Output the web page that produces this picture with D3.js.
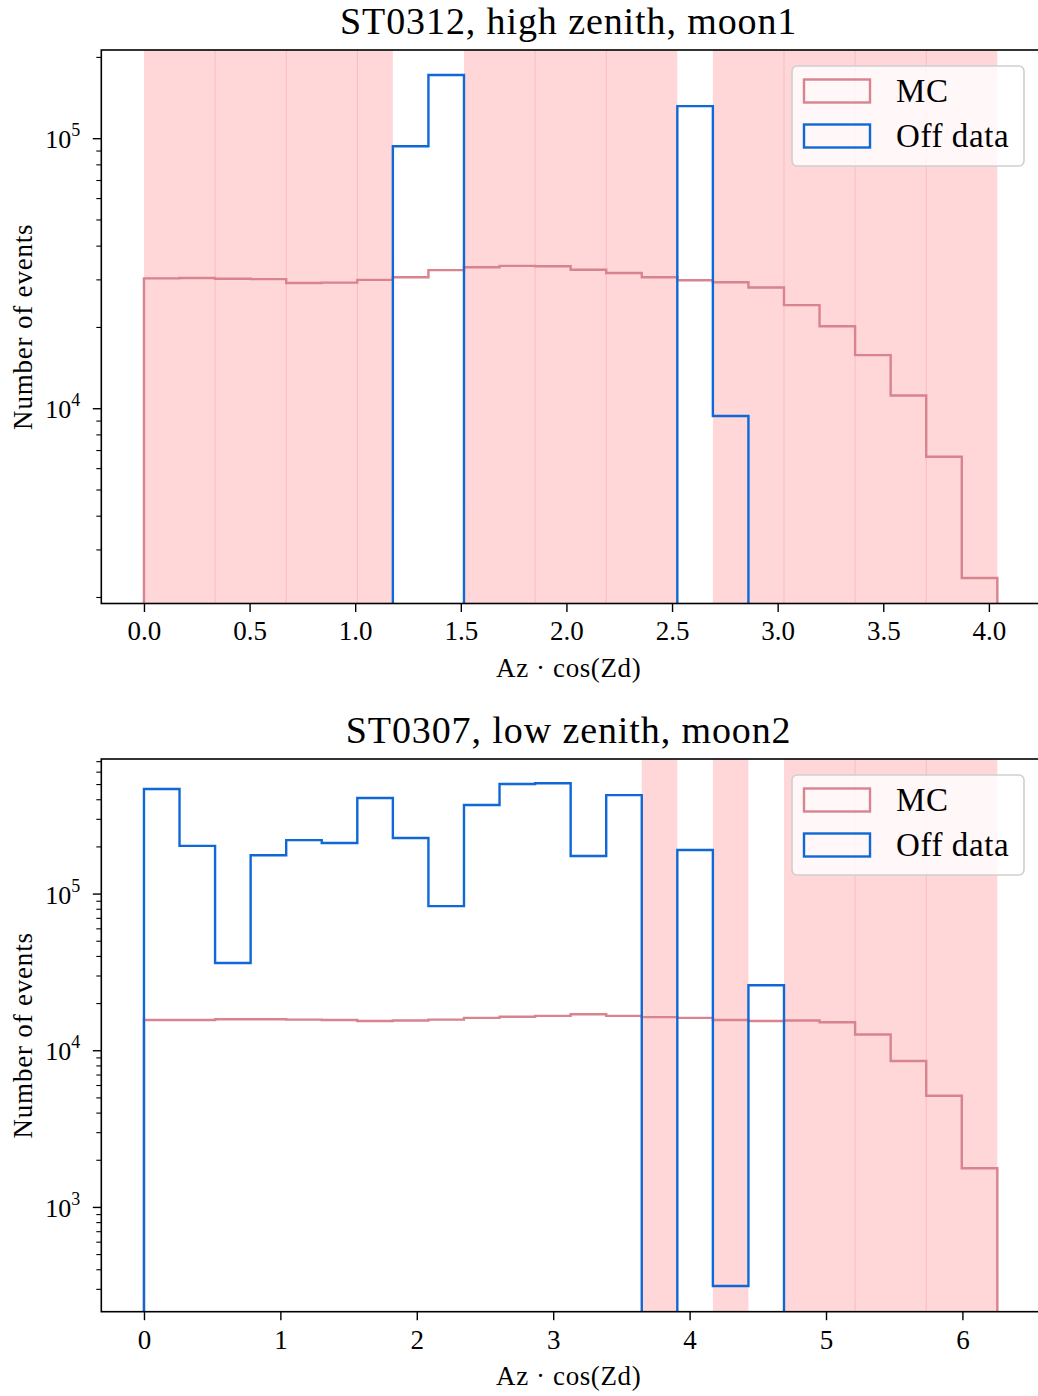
<!DOCTYPE html>
<html><head><meta charset="utf-8">
<script src="https://cdn.jsdelivr.net/npm/d3@7"></script>
<style>
html,body{margin:0;padding:0;background:#fff;}
svg text{font-family:"Liberation Serif","Times New Roman",serif;fill:#000;}
</style></head>
<body>
<svg id="chart" width="1038" height="1396"></svg>
<script>
// ---------- data ----------
const nBins = 24;
const topRangeMax = 4.04;
const botRangeMax = 6.256;
const topTitle = "ST0312, high zenith, moon1";
const botTitle = "ST0307, low zenith, moon2";
const xLabel = "Az · cos(Zd)";
const yLabel = "Number of events";
const legendLabels = ["MC", "Off data"];

const topMC = [3.04e4,3.05e4,3.03e4,3.02e4,2.92e4,2.93e4,3.0e4,3.07e4,3.26e4,3.34e4,3.38e4,3.37e4,
               3.27e4,3.18e4,3.07e4,2.99e4,2.94e4,2.81e4,2.42e4,2.02e4,1.58e4,1.12e4,6.64e3,2.36e3];
const topOff = [0,0,0,0,0,0,0,9.37e4,1.72e5,0,0,0,0,0,0,1.32e5,9.4e3,0,0,0,0,0,0,0];
const topXTicks = [0,0.5,1,1.5,2,2.5,3,3.5,4];
const topYMajor = [1e4,1e5];

const botMC = [1.57e4,1.57e4,1.59e4,1.59e4,1.58e4,1.57e4,1.55e4,1.56e4,1.58e4,1.62e4,1.65e4,1.67e4,
               1.71e4,1.67e4,1.64e4,1.62e4,1.57e4,1.55e4,1.56e4,1.52e4,1.27e4,8.6e3,5.16e3,1.78e3];
const botOff = [4.68e5,2.03e5,3.63e4,1.77e5,2.21e5,2.12e5,4.1e5,2.28e5,8.38e4,3.7e5,5.04e5,5.1e5,
                1.75e5,4.28e5,0,1.91e5,315,2.62e4,0,0,0,0,0,0];
const botXTicks = [0,1,2,3,4,5,6];
const botYMajor = [1e3,1e4,1e5];

// ---------- style ----------
const MC_COLOR = "#d8838e";
const OFF_COLOR = "#0f68d6";
const SHADE = "#ffd7d9";
const SEAM = "#f8bcc0";

const svg = d3.select("#chart");

function panel(cfg){
  const {left,right,top,bottom,xmax,mc,off,xTicks,xFmt,yDomain,yMajor,title,id} = cfg;
  const margin = 0.05*xmax;
  const x = d3.scaleLinear().domain([-margin, xmax+margin]).range([left,right]);
  const y = d3.scaleLog().domain(yDomain).range([bottom,top]);
  const edges = d3.range(nBins+1).map(i => i*xmax/nBins);
  const g = svg.append("g");

  g.append("clipPath").attr("id","clip"+id).append("rect")
    .attr("x",left).attr("y",top).attr("width",right-left).attr("height",bottom-top);

  const plot = g.append("g").attr("clip-path","url(#clip"+id+")");

  // shaded bins: off data below MC, merged into runs
  const shaded = d3.range(nBins).filter(i => off[i] < mc[i]);
  const runs = [];
  shaded.forEach(i => {
    const last = runs[runs.length-1];
    if (last && last[1] === i) last[1] = i+1; else runs.push([i, i+1]);
  });
  plot.selectAll("rect.shade").data(runs).join("rect")
    .attr("x", r => x(edges[r[0]])).attr("y", top)
    .attr("width", r => x(edges[r[1]]) - x(edges[r[0]]))
    .attr("height", bottom-top).attr("fill", SHADE);
  // faint seams inside runs (every second bin edge from the run start)
  const seams = [];
  runs.forEach(r => { for (let k=r[0]+2; k<r[1]; k+=2) seams.push(k); });
  plot.selectAll("line.seam").data(seams).join("line")
    .attr("x1", i => x(edges[i])).attr("x2", i => x(edges[i]))
    .attr("y1", top).attr("y2", bottom).attr("stroke", SEAM).attr("stroke-width",1);

  function stepPath(vals){
    const low = bottom + 20;
    const yy = v => v > 0 ? y(v) : low;
    let p = d3.path();
    p.moveTo(x(edges[0]), low);
    for (let i=0;i<nBins;i++){
      p.lineTo(x(edges[i]), yy(vals[i]));
      p.lineTo(x(edges[i+1]), yy(vals[i]));
    }
    p.lineTo(x(edges[nBins]), low);
    return p.toString();
  }
  plot.append("path").attr("d", stepPath(mc)).attr("fill","none")
    .attr("stroke", MC_COLOR).attr("stroke-width",2.4).attr("stroke-linejoin","miter");
  plot.append("path").attr("d", stepPath(off)).attr("fill","none")
    .attr("stroke", OFF_COLOR).attr("stroke-width",2.4).attr("stroke-linejoin","miter");

  // x axis
  const xa = g.append("g").attr("transform",`translate(0,${bottom})`)
    .call(d3.axisBottom(x).tickValues(xTicks).tickFormat(xFmt).tickSize(8.5).tickPadding(9));
  xa.select(".domain").remove();
  xa.selectAll(".tick line").attr("stroke","#000").attr("stroke-width",1.4);
  xa.selectAll(".tick text").attr("font-size",27).attr("dy","0.72em").attr("fill","#000")
    .style("font-family",'"Liberation Serif",serif');

  // y axis: minor ticks
  const [y0,y1] = yDomain;
  const minors = [];
  for (let e=Math.floor(Math.log10(y0)); e<=Math.ceil(Math.log10(y1)); e++){
    for (let m=2;m<=9;m++){ const v=m*Math.pow(10,e); if (v>=y0 && v<=y1) minors.push(v); }
  }
  const ya = g.append("g").attr("transform",`translate(${left},0)`);
  ya.selectAll("line.minor").data(minors).join("line")
    .attr("x1",-5).attr("x2",0).attr("y1",d=>y(d)).attr("y2",d=>y(d))
    .attr("stroke","#000").attr("stroke-width",1.1);
  ya.selectAll("line.major").data(yMajor).join("line")
    .attr("x1",-8.5).attr("x2",0).attr("y1",d=>y(d)).attr("y2",d=>y(d))
    .attr("stroke","#000").attr("stroke-width",1.4);
  const lab = ya.selectAll("text.ylab").data(yMajor).join("text")
    .attr("text-anchor","end").attr("x",-21).attr("y",d=>y(d)+9.5).attr("font-size",26);
  lab.append("tspan").text("10");
  lab.append("tspan").attr("dy",-12).attr("font-size",18).text(d=>Math.round(Math.log10(d)));

  // spines
  g.append("rect").attr("x",left).attr("y",top).attr("width",right-left).attr("height",bottom-top)
    .attr("fill","none").attr("stroke","#000").attr("stroke-width",1.6);

  // title & labels
  g.append("text").attr("x",(left+right)/2 - 2).attr("y",top-16).attr("text-anchor","middle")
    .attr("font-size",38).attr("letter-spacing",0.9).text(title);
  g.append("text").attr("x",(left+right)/2 - 2).attr("y",bottom+73).attr("text-anchor","middle")
    .attr("font-size",27).attr("letter-spacing",0.6).text(xLabel);
  g.append("text").attr("transform",`translate(32,${(top+bottom)/2}) rotate(-90)`)
    .attr("text-anchor","middle").attr("font-size",27).attr("letter-spacing",0.8).text(yLabel);

  // legend
  const lx = 792, ly = top+16;
  const leg = g.append("g");
  leg.append("rect").attr("x",lx).attr("y",ly).attr("width",232).attr("height",100)
    .attr("rx",5).attr("fill","rgba(255,255,255,0.8)").attr("stroke","#cfcfcf").attr("stroke-width",1.6);
  const items = [{c:MC_COLOR, t:legendLabels[0]},{c:OFF_COLOR, t:legendLabels[1]}];
  leg.selectAll("rect.patch").data(items).join("rect")
    .attr("x",lx+12).attr("y",(d,i)=>ly+13.5+i*45).attr("width",66).attr("height",23)
    .attr("fill","none").attr("stroke",d=>d.c).attr("stroke-width",2.4);
  leg.selectAll("text.lt").data(items).join("text")
    .attr("x",lx+104).attr("y",(d,i)=>ly+36+i*45).attr("font-size",33)
    .attr("letter-spacing",0.6).text(d=>d.t);
}

panel({id:1,left:101.3,right:1040,top:50,bottom:603.5,xmax:topRangeMax,mc:topMC,off:topOff,
  xTicks:topXTicks,xFmt:d3.format(".1f"),yDomain:[1.90e3,2.13e5],yMajor:topYMajor,title:topTitle});
panel({id:2,left:101.3,right:1040,top:759,bottom:1311.7,xmax:botRangeMax,mc:botMC,off:botOff,
  xTicks:botXTicks,xFmt:d3.format("d"),yDomain:[216,7.28e5],yMajor:botYMajor,title:botTitle});
</script>
</body></html>
